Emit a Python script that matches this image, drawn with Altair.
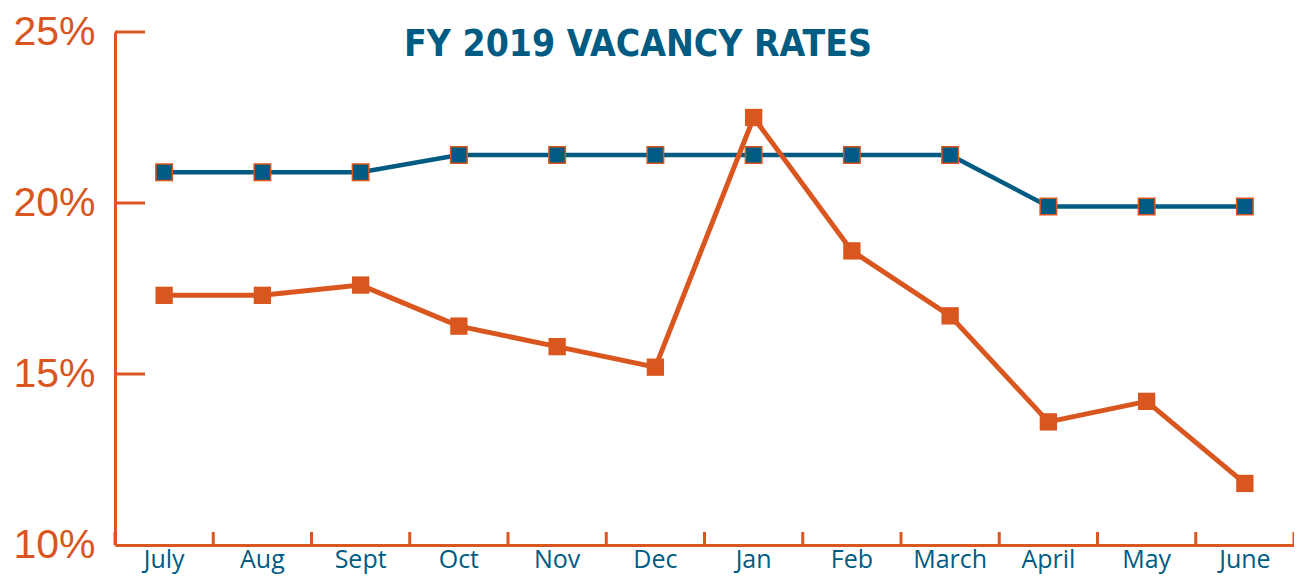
import altair as alt
import pandas as pd

months = ["July", "Aug", "Sept", "Oct", "Nov", "Dec", "Jan", "Feb", "March", "April", "May", "June"]
blue_values = [20.9, 20.9, 20.9, 21.4, 21.4, 21.4, 21.4, 21.4, 21.4, 19.9, 19.9, 19.9]
orange_values = [17.3, 17.3, 17.6, 16.4, 15.8, 15.2, 22.5, 18.6, 16.7, 13.6, 14.2, 11.8]
y_ticks = [10, 15, 20, 25]
title_text = "FY 2019 VACANCY RATES"

BLUE = "#005B82"
ORANGE = "#D9561F"

blue_df = pd.DataFrame({"month": months, "rate": blue_values})
orange_df = pd.DataFrame({"month": months, "rate": orange_values})
month_df = pd.DataFrame({"month": months})
end_df = pd.DataFrame({"month": [months[-1]]})
ytick_df = pd.DataFrame({"rate": y_ticks[1:]})
title_df = pd.DataFrame({"t": [title_text]})

W, H = 1179, 513

x_scale = alt.Scale(type="band", domain=months, paddingInner=0, paddingOuter=0)
y_scale = alt.Scale(domain=[10, 25], nice=False, zero=False)

x_enc = alt.X(
    "month:N",
    sort=months,
    scale=x_scale,
    axis=alt.Axis(
        title=None,
        labelAngle=0,
        labelFont="Open Sans",
        labelFontSize=25,
        labelColor=BLUE,
        labelPadding=2,
        ticks=False,
        domainColor=ORANGE,
        domainWidth=3,
        grid=False,
    ),
)
y_enc = alt.Y(
    "rate:Q",
    scale=y_scale,
    axis=alt.Axis(
        title=None,
        values=y_ticks,
        labelExpr="datum.value + '%'",
        labelFont="Liberation Sans",
        labelFontSize=41,
        labelColor=ORANGE,
        labelPadding=20,
        ticks=False,
        domainColor=ORANGE,
        domainWidth=3,
        grid=False,
    ),
)

blue_line = alt.Chart(blue_df).mark_line(color=BLUE, strokeWidth=4.5).encode(x=x_enc, y=y_enc)
orange_line = alt.Chart(orange_df).mark_line(color=ORANGE, strokeWidth=5).encode(x=x_enc, y=y_enc)
orange_pts = alt.Chart(orange_df).mark_point(
    shape="square", filled=True, size=300, color=ORANGE, opacity=1
).encode(x=x_enc, y=y_enc)
blue_pts = alt.Chart(blue_df).mark_point(
    shape="square", filled=True, size=272, color=BLUE, stroke=ORANGE, strokeWidth=1.5, opacity=1
).encode(x=x_enc, y=y_enc)

xticks = alt.Chart(month_df).mark_rule(color=ORANGE, strokeWidth=3).encode(
    x=alt.X("month:N", sort=months, scale=x_scale, bandPosition=0),
    y=alt.value(H),
    y2=alt.value(H - 13),
)
xtick_end = alt.Chart(end_df).mark_rule(color=ORANGE, strokeWidth=3).encode(
    x=alt.X("month:N", sort=months, scale=x_scale, bandPosition=1),
    y=alt.value(H),
    y2=alt.value(H - 13),
)
yticks = alt.Chart(ytick_df).mark_rule(color=ORANGE, strokeWidth=3).encode(
    y=alt.Y("rate:Q", scale=y_scale),
    x=alt.value(0),
    x2=alt.value(30),
)
title = alt.Chart(title_df).mark_text(
    font="DejaVu Sans Condensed",
    fontWeight="bold",
    fontSize=37,
    color=BLUE,
    align="center",
    baseline="middle",
).encode(text="t:N", x=alt.value(523), y=alt.value(13))

chart = (
    alt.layer(blue_line, orange_line, orange_pts, blue_pts, xticks, xtick_end, yticks, title)
    .properties(
        width=W,
        height=H,
        padding={"left": 107, "top": 24, "right": 0, "bottom": 32},
        autosize=alt.AutoSizeParams(type="none"),
    )
    .configure_view(stroke=None)
)

chart.save("out.html", embed_options={"renderer": "svg", "actions": False})
